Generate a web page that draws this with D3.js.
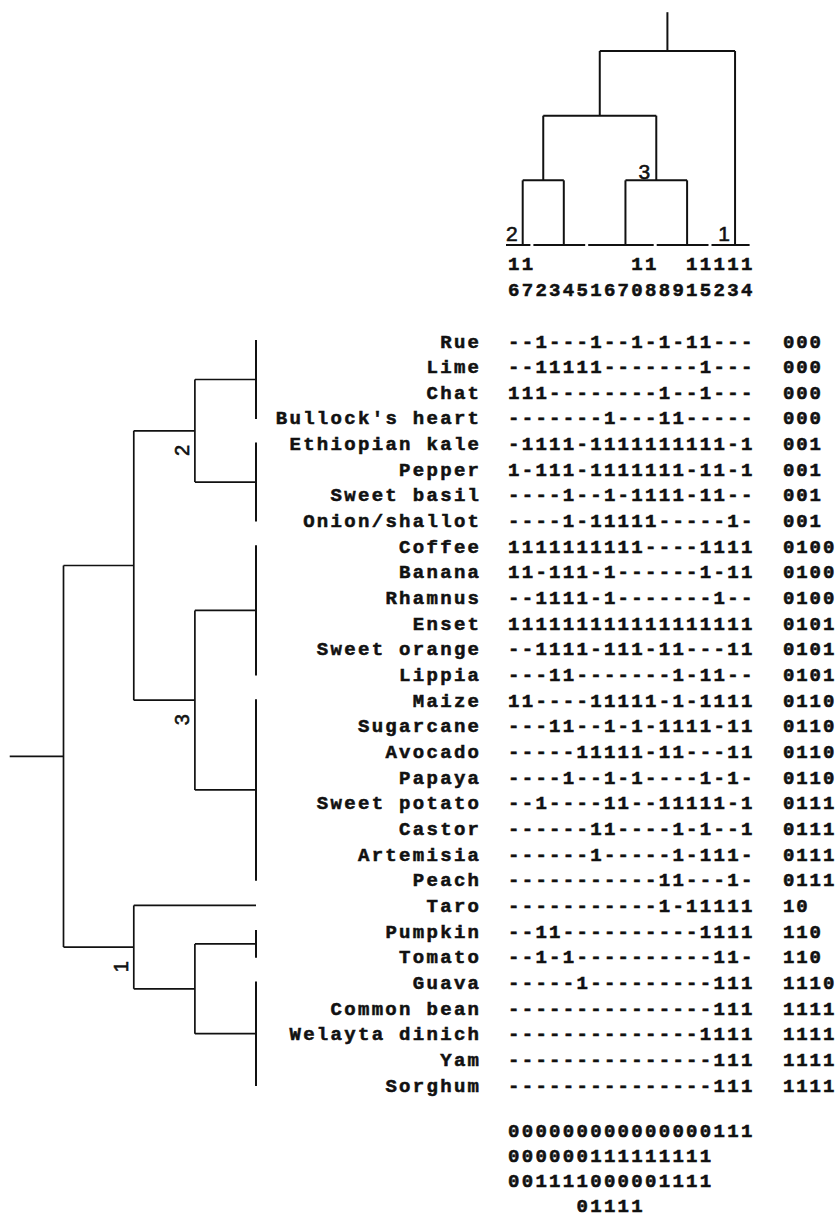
<!DOCTYPE html>
<html><head><meta charset="utf-8">
<script src="https://cdn.jsdelivr.net/npm/d3@7"></script>
<style>body{margin:0;background:#fff}</style>
</head><body>
<svg id="c" width="839" height="1223"></svg>
<script>
const rowNames = ["Rue","Lime","Chat","Bullock's heart","Ethiopian kale","Pepper","Sweet basil","Onion/shallot","Coffee","Banana","Rhamnus","Enset","Sweet orange","Lippia","Maize","Sugarcane","Avocado","Papaya","Sweet potato","Castor","Artemisia","Peach","Taro","Pumpkin","Tomato","Guava","Common bean","Welayta dinich","Yam","Sorghum"];
const rowPatterns = [
"--1---1--1-1-11---","--11111-------1---","111--------1--1---","-------1---11-----",
"-1111-1111111111-1","1-111-1111111-11-1","----1--1-1111-11--","----1-11111-----1-",
"1111111111----1111","11-111-1------1-11","--1111-1-------1--","111111111111111111",
"--1111-111-11---11","---11-------1-11--","11----11111-1-1111","---11--1-1-1111-11",
"-----11111-11---11","----1--1-1----1-1-","--1----11--11111-1","------11----1-1--1",
"------1-----1-111-","-----------11---1-","-----------1-11111","--11----------1111",
"--1-1----------11-","-----1---------111","---------------111","--------------1111",
"---------------111","---------------111"];
const rowCodes = ["000","000","000","000","001","001","001","001","0100","0100","0100","0101","0101","0101","0110","0110","0110","0110","0111","0111","0111","0111","10","110","110","1110","1111","1111","1111","1111"];
const colNumbers = [16,17,2,3,4,5,1,6,7,10,18,8,9,11,15,12,13,14];
const colCodes = ["000000000000000111","000000111111111","001111000001111","     01111"];

// dendrogram topologies: leaves are row / column ranges, h = merge level
const rowTree = {h:3.15, children:[
  {h:2, children:[
    {h:1, label:"2", children:[{h:0, rows:[0,3]},{h:0, rows:[4,7]}]},
    {h:1, label:"3", children:[{h:0, rows:[8,13]},{h:0, rows:[14,21]}]}
  ]},
  {h:2, label:"1", children:[{h:0, rows:[22,22]},{h:1, children:[{h:0, rows:[23,24]},{h:0, rows:[25,29]}]}]}
]};
const rowStemLevel = 4.03;
const colTree = {h:3, children:[
  {h:2, children:[
    {h:1, children:[{h:0, cols:[0,1], label:"2"},{h:0, cols:[2,5]}]},
    {h:1, label:"3", children:[{h:0, cols:[6,10]},{h:0, cols:[11,14]}]}
  ]},
  {h:0, cols:[15,17], label:"1"}
]};
const colStemLevel = 3.6;

const svg = d3.select("#c");
const FS = 19;
const mono = "'Liberation Mono','Courier New',monospace";

const y = d3.scaleLinear().domain([0, rowNames.length-1]).range([341, 1085]);
const xCol = d3.scaleBand().domain(d3.range(18)).range([508, 754.6]).padding(0);
const pitch = xCol.bandwidth();
const ls = pitch - 0.6*FS;

const hx = d3.scaleLinear().domain([0, 3.15]).range([256, 63.5]);
const hy = d3.scaleLinear().domain([0, 3]).range([245, 51]);

const ink = "#111";
function monoText(sel){
  return sel.style("font-family", mono).style("font-weight","bold").style("font-size", FS+"px")
    .attr("fill", ink).attr("stroke", ink).attr("stroke-width", 0.55);
}

monoText(svg.append("g").selectAll("text").data(rowNames).join("text")
  .attr("x", 479 + ls).attr("y", (d,i)=>y(i)+6.5)
  .attr("text-anchor","end")
  .style("letter-spacing", ls+"px")
  .text(d=>d));
monoText(svg.append("g").selectAll("text").data(rowPatterns).join("text")
  .attr("x", xCol(0)).attr("y", (d,i)=>y(i)+6.5)
  .style("letter-spacing", ls+"px")
  .text(d=>d));
monoText(svg.append("g").selectAll("text").data(rowCodes).join("text")
  .attr("x", 783).attr("y", (d,i)=>y(i)+6.5)
  .style("letter-spacing", (ls-0.4)+"px")
  .text(d=>d));
const hdr = monoText(svg.append("g"));
colNumbers.forEach((n,i)=>{
  if (n >= 10) hdr.append("text").attr("x", xCol(i)).attr("y", 269.5).text(Math.floor(n/10));
  hdr.append("text").attr("x", xCol(i)).attr("y", 295.5).text(n%10);
});
monoText(svg.append("g").selectAll("text").data(colCodes).join("text")
  .attr("x", xCol(0)).attr("y", (d,i)=>1136.5 + i*25)
  .attr("xml:space","preserve").style("white-space","pre")
  .style("letter-spacing", ls+"px")
  .text(d=>d));

// ---- row dendrogram ----
const rRoot = d3.hierarchy(rowTree);
rRoot.eachAfter(n=>{
  n.px = hx(n.data.h);
  if (n.children) n.py = (d3.min(n.children, c=>c.py) + d3.max(n.children, c=>c.py))/2;
  else n.py = (y(n.data.rows[0]) + y(n.data.rows[1]))/2;
});
const gR = svg.append("g").attr("stroke", ink).attr("stroke-width", 1.7).attr("fill","none");
rRoot.each(n=>{
  if (n.children) {
    const ys = n.children.map(c=>c.py);
    gR.append("line").attr("x1", n.px).attr("x2", n.px).attr("y1", d3.min(ys)).attr("y2", d3.max(ys));
    n.children.forEach(c=>{
      gR.append("line").attr("x1", n.px).attr("x2", c.px).attr("y1", c.py).attr("y2", c.py);
    });
  } else if (n.data.rows[1] > n.data.rows[0]) {
    gR.append("line").attr("x1", n.px).attr("x2", n.px)
      .attr("y1", y(n.data.rows[0])-1).attr("y2", y(n.data.rows[1])+1).attr("stroke-width", 2);
  }
});
gR.append("line").attr("x1", hx(rowStemLevel)).attr("x2", rRoot.px).attr("y1", rRoot.py).attr("y2", rRoot.py);
rRoot.each(n=>{
  if (n.data.label) {
    svg.append("text").attr("transform", `translate(${n.px-6},${n.py+14}) rotate(-90)`)
      .attr("text-anchor","end")
      .style("font-family","'Liberation Sans',Arial,sans-serif").style("font-size","20px")
      .attr("fill", ink).attr("stroke", ink).attr("stroke-width", 0.6)
      .text(n.data.label);
  }
});

// ---- column dendrogram ----
const cRoot = d3.hierarchy(colTree);
const cx = c=> xCol(c) + pitch/2 + 1;
cRoot.eachAfter(n=>{
  n.py = hy(n.data.h);
  if (n.children) n.px = (d3.min(n.children, c=>c.px) + d3.max(n.children, c=>c.px))/2;
  else n.px = (cx(n.data.cols[0]) + cx(n.data.cols[1]))/2;
});
const gC = svg.append("g").attr("stroke", ink).attr("stroke-width", 2).attr("fill","none");
cRoot.each(n=>{
  if (n.children) {
    const xs = n.children.map(c=>c.px);
    gC.append("line").attr("y1", n.py).attr("y2", n.py).attr("x1", d3.min(xs)).attr("x2", d3.max(xs));
    n.children.forEach(c=>{
      gC.append("line").attr("y1", n.py).attr("y2", c.py).attr("x1", c.px).attr("x2", c.px);
    });
  } else {
    gC.append("line").attr("y1", n.py).attr("y2", n.py)
      .attr("x1", xCol(n.data.cols[0]) - 2).attr("x2", xCol(n.data.cols[1]) + pitch - 5);
  }
});
gC.append("line").attr("x1", cRoot.px).attr("x2", cRoot.px).attr("y1", hy(colStemLevel)).attr("y2", cRoot.py);
cRoot.each(n=>{
  if (n.data.label) {
    const leaf = !n.children;
    svg.append("text")
      .attr("x", leaf ? n.px - 5 : n.px - 6).attr("y", leaf ? n.py - 4 : n.py - 1)
      .attr("text-anchor","end")
      .style("font-family","'Liberation Sans',Arial,sans-serif").style("font-size","21px")
      .attr("fill", ink).attr("stroke", ink).attr("stroke-width", 0.6)
      .text(n.data.label);
  }
});
</script>
</body></html>
